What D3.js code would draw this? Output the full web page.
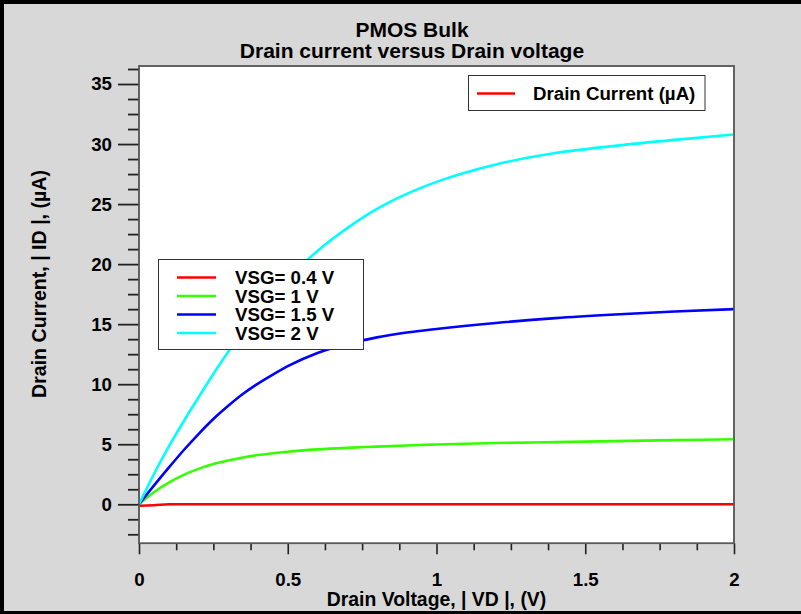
<!DOCTYPE html>
<html>
<head>
<meta charset="utf-8">
<script src="https://cdn.jsdelivr.net/npm/d3@7"></script>
<style>
  html, body { margin: 0; padding: 0; background: #d8d8d8; }
  svg { display: block; }
  text { font-family: "Liberation Sans", Arial, sans-serif; font-weight: bold; fill: #000; }
</style>
</head>
<body>
<script>
// Drain voltage sweep |VD| (V)
const drainVoltage = [0, 0.05, 0.1, 0.15, 0.2, 0.25, 0.3, 0.35, 0.4, 0.45, 0.5, 0.6, 0.7, 0.8, 0.9, 1.0, 1.2, 1.4, 1.6, 1.8, 2.0];

// |ID| (µA) for each gate-source voltage
const idVsg04 = [-0.12, -0.08, 0, 0, 0, 0, 0, 0, 0, 0, 0, 0, 0, 0, 0, 0, 0, 0, 0, 0, 0];
const idVsg1  = [0, 1.0, 1.8, 2.45, 2.95, 3.35, 3.65, 3.9, 4.1, 4.25, 4.38, 4.57, 4.7, 4.8, 4.9, 4.98, 5.1, 5.18, 5.26, 5.34, 5.42];
const idVsg15 = [0, 1.55, 3.05, 4.5, 5.85, 7.1, 8.2, 9.2, 10.05, 10.8, 11.5, 12.6, 13.35, 13.9, 14.3, 14.6, 15.1, 15.5, 15.8, 16.05, 16.25];
const idVsg2  = [0, 2.5, 4.8, 6.9, 8.9, 10.85, 12.7, 14.4, 16.0, 17.45, 18.8, 21.1, 23.0, 24.6, 25.85, 26.85, 28.3, 29.25, 29.85, 30.35, 30.8];

const seriesNames  = ["VSG= 0.4 V", "VSG= 1 V", "VSG= 1.5 V", "VSG= 2 V"];
const seriesValues = [idVsg04, idVsg1, idVsg15, idVsg2];
const seriesColors = ["#ff0000", "#33ff00", "#0000ff", "#00ffff"];

const xMajorTicks = [0, 0.5, 1, 1.5, 2];
const xTickLabels = ["0", "0.5", "1", "1.5", "2"];
const yMajorTicks = [0, 5, 10, 15, 20, 25, 30, 35];
const yTickLabels = ["0", "5", "10", "15", "20", "25", "30", "35"];

const titleLines = ["PMOS Bulk", "Drain current versus Drain voltage"];
const xLabel = "Drain Voltage, | VD |, (V)";
const yLabel = "Drain Current, | ID |, (\u00b5A)";
const topLegendLabel = "Drain Current (\u00b5A)";

const W = 801, H = 614;
const plot = { left: 139, right: 734, top: 66, bottom: 543.3 };
const FS = 18.7;

const svg = d3.select("body").append("svg").attr("width", W).attr("height", H);

// window background and frame
svg.append("rect").attr("x", 0).attr("y", 0).attr("width", W).attr("height", H).attr("fill", "#d8d8d8");
svg.append("rect").attr("x", 0).attr("y", 0).attr("width", W).attr("height", 4).attr("fill", "#000");
svg.append("rect").attr("x", 0).attr("y", 0).attr("width", 4).attr("height", H).attr("fill", "#000");
svg.append("rect").attr("x", 0).attr("y", 611).attr("width", W).attr("height", 3).attr("fill", "#000");

const x = d3.scaleLinear().domain([0, 2]).range([plot.left, plot.right]);
const y = d3.scaleLinear().domain([-3.25, 36.5]).range([plot.bottom, plot.top]);

// plot area
svg.append("rect")
  .attr("x", plot.left).attr("y", plot.top)
  .attr("width", plot.right - plot.left).attr("height", plot.bottom - plot.top)
  .attr("fill", "#fff").attr("stroke", "#5a5a5a").attr("stroke-width", 1.5);

// x axis ticks (below the plot)
const xMinor = d3.range(0, 2.0001, 0.125).filter(v => !xMajorTicks.some(m => Math.abs(m - v) < 1e-6));
const xAxisMajor = d3.axisBottom(x).tickValues(xMajorTicks).tickSize(11).tickFormat((d, i) => xTickLabels[i]).tickPadding(18);
const xAxisMinor = d3.axisBottom(x).tickValues(xMinor).tickSize(7).tickFormat("");
const gxMinor = svg.append("g").attr("transform", `translate(0,${plot.bottom})`).call(xAxisMinor);
const gx = svg.append("g").attr("transform", `translate(0,${plot.bottom})`).call(xAxisMajor);
[gx, gxMinor].forEach(g => {
  g.select(".domain").remove();
  g.selectAll("line").attr("stroke", "#222").attr("stroke-width", 1.6);
});
gx.selectAll("text").style("font-size", FS + "px").attr("font-family", null).attr("fill", "#000").attr("dy", "0.71em");

// y axis ticks (left of the plot)
const yMinor = d3.range(-2.5, 36.3, 1.25).filter(v => !yMajorTicks.some(m => Math.abs(m - v) < 1e-6));
const yAxisMajor = d3.axisLeft(y).tickValues(yMajorTicks).tickSize(21).tickFormat((d, i) => yTickLabels[i]).tickPadding(6);
const yAxisMinor = d3.axisLeft(y).tickValues(yMinor).tickSize(11).tickFormat("");
const gyMinor = svg.append("g").attr("transform", `translate(${plot.left},0)`).call(yAxisMinor);
const gy = svg.append("g").attr("transform", `translate(${plot.left},0)`).call(yAxisMajor);
[gy, gyMinor].forEach(g => {
  g.select(".domain").remove();
  g.selectAll("line").attr("stroke", "#222").attr("stroke-width", 1.8);
});
gy.selectAll("text").style("font-size", FS + "px").attr("font-family", null).attr("fill", "#000");

// curves
svg.append("clipPath").attr("id", "plotClip").append("rect")
  .attr("x", plot.left).attr("y", plot.top)
  .attr("width", plot.right - plot.left).attr("height", plot.bottom - plot.top);

const line = d3.line()
  .x(d => x(d[0]))
  .y(d => y(d[1]))
  .curve(d3.curveMonotoneX);

const curves = svg.append("g").attr("clip-path", "url(#plotClip)");
seriesValues.forEach((vals, i) => {
  curves.append("path")
    .datum(drainVoltage.map((v, k) => [v, vals[k]]))
    .attr("d", line)
    .attr("fill", "none")
    .attr("stroke", seriesColors[i])
    .attr("stroke-width", 2.6)
    .attr("stroke-linejoin", "round");
});

// redraw plot frame on top
svg.append("rect")
  .attr("x", plot.left).attr("y", plot.top)
  .attr("width", plot.right - plot.left).attr("height", plot.bottom - plot.top)
  .attr("fill", "none").attr("stroke", "#5a5a5a").attr("stroke-width", 1.5);

// series legend
const leg = svg.append("g");
leg.append("rect").attr("x", 158.5).attr("y", 259.5).attr("width", 205).attr("height", 90)
  .attr("fill", "#fff").attr("stroke", "#333").attr("stroke-width", 1);
seriesNames.forEach((name, i) => {
  const ry = 277.5 + i * 18.5;
  leg.append("line").attr("x1", 177).attr("x2", 216).attr("y1", ry).attr("y2", ry)
    .attr("stroke", seriesColors[i]).attr("stroke-width", 2.6);
  leg.append("text").attr("x", 235).attr("y", ry).attr("dy", "0.36em")
    .style("font-size", FS + "px").text(name);
});

// top-right legend
const leg2 = svg.append("g");
leg2.append("rect").attr("x", 468.5).attr("y", 75.5).attr("width", 236.5).attr("height", 35)
  .attr("fill", "#fff").attr("stroke", "#333").attr("stroke-width", 1);
leg2.append("line").attr("x1", 477).attr("x2", 515).attr("y1", 93.5).attr("y2", 93.5)
  .attr("stroke", "#ff0000").attr("stroke-width", 2.6);
leg2.append("text").attr("x", 533).attr("y", 93.5).attr("dy", "0.36em")
  .style("font-size", FS + "px").text(topLegendLabel);

// titles
const titleX = 412;
svg.append("text").attr("x", titleX).attr("y", 37).attr("text-anchor", "middle")
  .style("font-size", "21px").text(titleLines[0]);
svg.append("text").attr("x", titleX).attr("y", 58).attr("text-anchor", "middle")
  .style("font-size", "21px").text(titleLines[1]);

// axis titles
const cx = (plot.left + plot.right) / 2;
svg.append("text").attr("x", cx).attr("y", 606).attr("text-anchor", "middle")
  .style("font-size", "19.4px").text(xLabel);
svg.append("text").attr("transform", "translate(46,284) rotate(-90)").attr("text-anchor", "middle")
  .style("font-size", "19.6px").text(yLabel);
</script>
</body>
</html>
